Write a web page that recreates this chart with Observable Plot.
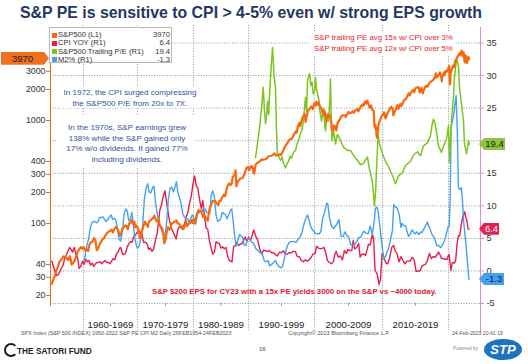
<!DOCTYPE html>
<html>
<head>
<meta charset="utf-8">
<script src="https://cdn.jsdelivr.net/npm/d3@7"></script>
<script src="https://cdn.jsdelivr.net/npm/@observablehq/plot@0.6"></script>
<style>
html,body{margin:0;padding:0;background:#fff;}
#wrap{position:relative;width:528px;height:364px;overflow:hidden;font-family:"Liberation Sans",Arial,sans-serif;background:#fff;}
#chart{position:absolute;left:0;top:26px;}
.t{position:absolute;white-space:nowrap;line-height:0;}
.c{transform:translateX(-50%);}
.r{transform:translateX(-100%);}
.box{position:absolute;background:#fff;}
#title{position:absolute;left:20px;top:13px;white-space:nowrap;line-height:0;font-weight:bold;font-size:17px;color:#1f3864;font-family:"Liberation Sans Narrow","Liberation Sans",Arial,sans-serif;transform-origin:0 50%;}
</style>
</head>
<body>
<div id="wrap">
  <div id="title">S&amp;P PE is sensitive to CPI &gt; 4-5% even w/ strong EPS growth</div>
  <div id="chart"></div>
</div>
<script>
// ---------------- data ----------------
const seriesNames = ["S&P500 (L1)", "CPI YOY (R1)", "S&P500 Trailing P/E (R1)", "M2%  (R1)"];
const lastValues = ["3970", "6.4", "19.4", "-1.3"];
const leftTicks = [20, 30, 40, 100, 200, 300, 400, 1000, 2000, 3000];
const rightTicks = [-5, 0, 5, 10, 15, 20, 25, 30, 35];
const decades = [1960, 1970, 1980, 1990, 2000, 2010, 2020];
const decadeLabels = ["1960-1969", "1970-1979", "1980-1989", "1990-1999", "2000-2009", "2010-2019"];

const spx = [[1954.15,26],[1954.4,28.5],[1954.7,31],[1954.95,35],[1955.2,37],[1955.5,42],[1955.75,44],[1956.0,45],[1956.3,48],[1956.6,47],[1956.9,46],[1957.2,44],[1957.5,48],[1957.8,40],[1958.0,41],[1958.3,43],[1958.6,47],[1958.9,53],[1959.2,56],[1959.5,59],[1959.8,57],[1960.0,59],[1960.3,55],[1960.6,56],[1960.85,54],[1961.1,62],[1961.4,66],[1961.7,67],[1961.95,72],[1962.2,69],[1962.45,55],[1962.7,57],[1962.95,62],[1963.2,66],[1963.5,70],[1963.8,72],[1964.0,76],[1964.3,80],[1964.6,83],[1964.9,85],[1965.2,87],[1965.45,82],[1965.7,88],[1965.95,92],[1966.2,90],[1966.45,85],[1966.75,76],[1966.95,80],[1967.2,89],[1967.5,92],[1967.75,96],[1968.0,94],[1968.2,88],[1968.45,100],[1968.7,102],[1968.9,108],[1969.15,99],[1969.4,104],[1969.6,92],[1969.85,96],[1970.0,91],[1970.25,86],[1970.4,72],[1970.6,77],[1970.85,86],[1971.1,96],[1971.35,104],[1971.6,97],[1971.85,93],[1972.0,103],[1972.3,107],[1972.6,110],[1972.9,116],[1973.0,119],[1973.3,108],[1973.55,104],[1973.8,109],[1973.95,97],[1974.2,93],[1974.45,88],[1974.65,75],[1974.77,64],[1974.95,68],[1975.2,82],[1975.45,92],[1975.65,87],[1975.9,90],[1976.1,100],[1976.4,102],[1976.7,105],[1976.95,107],[1977.2,100],[1977.5,99],[1977.8,93],[1978.0,89],[1978.2,88],[1978.5,97],[1978.7,104],[1978.85,94],[1979.1,99],[1979.4,101],[1979.7,108],[1979.85,101],[1980.0,110],[1980.2,100],[1980.4,111],[1980.65,126],[1980.9,135],[1981.1,130],[1981.35,133],[1981.6,123],[1981.75,116],[1982.0,119],[1982.3,112],[1982.6,106],[1982.7,118],[1982.9,138],[1983.2,152],[1983.45,164],[1983.7,166],[1983.95,165],[1984.2,157],[1984.5,151],[1984.7,166],[1984.95,166],[1985.2,179],[1985.5,190],[1985.75,184],[1985.95,208],[1986.2,232],[1986.45,245],[1986.7,236],[1986.95,246],[1987.15,285],[1987.4,290],[1987.65,328],[1987.8,230],[1987.95,245],[1988.2,262],[1988.5,272],[1988.75,275],[1988.95,278],[1989.2,295],[1989.5,330],[1989.7,350],[1989.95,352],[1990.1,330],[1990.4,360],[1990.6,355],[1990.8,305],[1990.95,330],[1991.1,375],[1991.4,390],[1991.7,400],[1991.95,418],[1992.2,415],[1992.5,420],[1992.75,425],[1992.95,445],[1993.2,452],[1993.5,455],[1993.8,470],[1994.0,478],[1994.2,455],[1994.5,460],[1994.75,470],[1994.95,462],[1995.2,500],[1995.45,545],[1995.7,580],[1995.95,615],[1996.2,650],[1996.5,665],[1996.7,690],[1996.95,745],[1997.2,790],[1997.3,760],[1997.5,890],[1997.75,950],[1997.85,880],[1997.98,970],[1998.2,1080],[1998.5,1150],[1998.65,970],[1998.8,1080],[1998.98,1230],[1999.2,1290],[1999.5,1370],[1999.75,1290],[1999.98,1470],[2000.2,1400],[2000.25,1520],[2000.4,1420],[2000.6,1500],[2000.8,1360],[2000.98,1320],[2001.2,1180],[2001.3,1130],[2001.45,1250],[2001.7,1050],[2001.75,970],[2001.98,1150],[2002.2,1140],[2002.45,990],[2002.55,820],[2002.75,800],[2002.9,900],[2003.1,840],[2003.2,800],[2003.4,950],[2003.6,990],[2003.8,1050],[2003.98,1110],[2004.2,1120],[2004.5,1120],[2004.6,1080],[2004.98,1210],[2005.2,1180],[2005.4,1190],[2005.6,1230],[2005.8,1190],[2005.98,1250],[2006.3,1300],[2006.45,1230],[2006.7,1320],[2006.98,1420],[2007.15,1440],[2007.2,1390],[2007.45,1530],[2007.6,1460],[2007.78,1560],[2007.9,1470],[2008.1,1330],[2008.3,1400],[2008.55,1250],[2008.7,1250],[2008.8,900],[2008.9,850],[2008.98,900],[2009.15,700],[2009.2,680],[2009.4,900],[2009.6,1000],[2009.8,1080],[2009.98,1115],[2010.25,1200],[2010.45,1050],[2010.6,1100],[2010.8,1190],[2010.98,1260],[2011.3,1360],[2011.55,1290],[2011.65,1120],[2011.8,1200],[2011.98,1260],[2012.25,1410],[2012.4,1300],[2012.7,1450],[2012.85,1380],[2012.98,1430],[2013.3,1590],[2013.45,1600],[2013.7,1680],[2013.98,1840],[2014.1,1750],[2014.4,1900],[2014.6,1980],[2014.8,1880],[2014.98,2060],[2015.3,2100],[2015.45,2110],[2015.65,1870],[2015.9,2090],[2016.1,1830],[2016.4,2070],[2016.6,2170],[2016.85,2130],[2016.98,2240],[2017.2,2360],[2017.5,2420],[2017.75,2520],[2017.98,2670],[2018.08,2870],[2018.15,2600],[2018.4,2700],[2018.7,2930],[2018.9,2630],[2018.98,2400],[2019.1,2700],[2019.35,2940],[2019.4,2750],[2019.55,3020],[2019.75,2970],[2019.98,3230],[2020.12,3380],[2020.22,2240],[2020.35,2900],[2020.5,3150],[2020.7,3400],[2020.85,3300],[2020.98,3750],[2021.2,3950],[2021.4,4200],[2021.6,4400],[2021.7,4530],[2021.8,4300],[2021.98,4770],[2022.1,4400],[2022.2,4200],[2022.3,4600],[2022.45,3670],[2022.6,4300],[2022.78,3600],[2022.9,4080],[2022.98,3840],[2023.05,4120],[2023.15,3970]];

const cpi = [[1954.15,1.5],[1954.4,0.8],[1954.7,0.0],[1955.0,-0.7],[1955.3,-0.6],[1955.6,-0.2],[1955.9,0.4],[1956.2,0.8],[1956.5,1.9],[1956.8,2.4],[1957.1,3.0],[1957.4,3.6],[1957.7,3.3],[1958.0,2.9],[1958.3,3.6],[1958.6,2.5],[1958.9,2.1],[1959.2,0.4],[1959.5,0.7],[1959.8,1.5],[1960.1,1.0],[1960.4,1.8],[1960.7,1.4],[1961.0,1.6],[1961.3,0.9],[1961.6,1.2],[1961.9,0.7],[1962.2,1.1],[1962.5,1.3],[1962.8,1.3],[1963.1,1.4],[1963.4,1.1],[1963.7,1.4],[1964.0,1.6],[1964.3,1.3],[1964.6,1.3],[1964.9,1.1],[1965.2,1.5],[1965.5,1.9],[1965.8,1.7],[1966.1,2.6],[1966.4,2.9],[1966.7,3.5],[1966.9,3.6],[1967.2,2.6],[1967.5,2.5],[1967.8,2.8],[1968.1,3.7],[1968.4,4.2],[1968.7,4.5],[1969.0,4.4],[1969.3,5.3],[1969.6,5.5],[1969.9,5.9],[1970.2,6.1],[1970.5,6.0],[1970.8,5.6],[1971.1,4.4],[1971.4,4.4],[1971.7,4.2],[1972.0,3.3],[1972.3,3.5],[1972.6,3.0],[1972.9,3.4],[1973.2,4.7],[1973.5,5.7],[1973.8,7.9],[1974.0,9.4],[1974.3,10.2],[1974.6,11.5],[1974.9,12.3],[1975.1,11.1],[1975.4,9.3],[1975.7,7.8],[1976.0,6.7],[1976.3,6.1],[1976.6,5.5],[1976.9,4.9],[1977.2,6.4],[1977.5,6.8],[1977.8,6.6],[1978.1,6.8],[1978.4,7.2],[1978.7,8.3],[1979.0,9.0],[1979.3,10.4],[1979.6,11.5],[1979.9,13.3],[1980.2,14.6],[1980.5,13.1],[1980.8,12.6],[1981.1,11.0],[1981.4,9.6],[1981.7,10.8],[1982.0,8.4],[1982.3,6.6],[1982.6,6.4],[1982.9,4.6],[1983.2,3.6],[1983.5,2.6],[1983.8,2.9],[1984.1,4.5],[1984.4,4.3],[1984.7,4.2],[1985.0,3.5],[1985.3,3.7],[1985.6,3.4],[1985.9,3.6],[1986.2,2.3],[1986.5,1.6],[1986.8,1.5],[1987.0,1.4],[1987.3,3.8],[1987.6,3.9],[1987.9,4.4],[1988.2,3.9],[1988.5,4.1],[1988.8,4.2],[1989.1,4.7],[1989.4,5.2],[1989.7,4.5],[1990.0,5.2],[1990.3,4.7],[1990.6,5.6],[1990.8,6.3],[1991.1,5.3],[1991.4,4.7],[1991.7,3.4],[1992.0,2.6],[1992.3,3.2],[1992.6,3.1],[1992.9,3.0],[1993.2,3.1],[1993.5,2.8],[1993.8,2.8],[1994.1,2.5],[1994.4,2.3],[1994.7,2.9],[1995.0,2.8],[1995.3,3.1],[1995.6,2.6],[1995.9,2.6],[1996.2,2.8],[1996.5,2.8],[1996.8,3.0],[1997.1,3.0],[1997.4,2.2],[1997.7,2.2],[1998.0,1.6],[1998.3,1.4],[1998.6,1.7],[1998.9,1.5],[1999.2,1.7],[1999.5,2.1],[1999.8,2.6],[2000.1,2.7],[2000.3,3.8],[2000.6,3.5],[2000.9,3.4],[2001.2,3.5],[2001.4,3.6],[2001.7,2.6],[2001.9,1.6],[2002.2,1.3],[2002.5,1.1],[2002.8,1.5],[2003.0,2.6],[2003.2,3.0],[2003.5,2.1],[2003.8,2.3],[2004.1,1.7],[2004.4,3.1],[2004.7,2.7],[2004.9,3.3],[2005.2,3.1],[2005.5,3.2],[2005.7,4.7],[2005.9,3.4],[2006.2,3.6],[2006.5,4.2],[2006.7,2.1],[2006.9,2.5],[2007.2,2.6],[2007.5,2.4],[2007.8,3.5],[2007.95,4.1],[2008.2,4.0],[2008.5,5.6],[2008.7,4.9],[2008.9,0.1],[2009.2,-0.4],[2009.5,-2.1],[2009.7,-1.3],[2009.95,2.7],[2010.2,2.2],[2010.5,1.2],[2010.8,1.1],[2011.1,2.1],[2011.4,3.6],[2011.7,3.9],[2011.95,3.0],[2012.2,2.7],[2012.5,1.4],[2012.8,2.2],[2013.1,1.6],[2013.4,1.1],[2013.7,1.5],[2013.95,1.5],[2014.2,1.5],[2014.5,2.1],[2014.8,1.7],[2014.95,0.8],[2015.1,-0.1],[2015.4,0.0],[2015.7,0.0],[2015.95,0.7],[2016.2,0.9],[2016.5,1.0],[2016.8,1.6],[2017.1,2.7],[2017.4,1.9],[2017.7,2.2],[2017.95,2.1],[2018.2,2.4],[2018.5,2.9],[2018.8,2.3],[2018.95,1.9],[2019.2,1.9],[2019.5,1.8],[2019.8,1.8],[2019.95,2.3],[2020.1,2.5],[2020.35,0.1],[2020.6,1.3],[2020.9,1.2],[2021.1,1.7],[2021.3,4.2],[2021.5,5.4],[2021.7,5.4],[2021.9,6.8],[2022.0,7.5],[2022.2,8.5],[2022.45,9.1],[2022.6,8.3],[2022.8,7.7],[2022.95,6.5],[2023.1,6.4]];

const pe = [[1991.06,17.4],[1991.36,19.5],[1991.67,22],[1991.97,25],[1992.23,28.2],[1992.4,25],[1992.58,22.6],[1992.75,24],[1992.88,26],[1993.05,24],[1993.18,27],[1993.4,30.8],[1993.64,34.3],[1993.75,32.5],[1993.86,30],[1994.09,28.2],[1994.24,21.5],[1994.39,18],[1994.6,17.5],[1994.85,17],[1995.1,17.5],[1995.3,16.5],[1995.61,15.8],[1995.85,16.5],[1996.06,16.8],[1996.3,17.6],[1996.52,17.3],[1996.8,18.2],[1997.12,18.5],[1997.35,19.5],[1997.58,20],[1997.85,21],[1998.18,22],[1998.4,24],[1998.64,26.6],[1998.8,24.5],[1998.94,29.2],[1999.24,30.3],[1999.45,28.5],[1999.62,29],[1999.8,27.2],[2000.0,27.5],[2000.15,29.7],[2000.29,28],[2000.59,26.6],[2000.8,24.5],[2001.03,23],[2001.32,25],[2001.5,22.5],[2001.62,21.5],[2001.85,24],[2002.06,23],[2002.25,26],[2002.35,29.5],[2002.45,24],[2002.57,20],[2002.79,21.5],[2003.1,19.5],[2003.38,21],[2003.82,20],[2004.26,19],[2004.85,18.5],[2005.29,18.5],[2005.88,17.5],[2006.32,17],[2006.76,16.3],[2007.21,16.5],[2007.5,17],[2007.79,17.5],[2008.0,16],[2008.24,15],[2008.53,13.5],[2008.82,10],[2009.0,12.5],[2009.12,15.5],[2009.34,21],[2009.56,19.5],[2010.0,18],[2010.45,16.8],[2010.91,16],[2011.2,15.3],[2011.52,14.6],[2011.97,13.4],[2012.42,14.6],[2013.03,15.1],[2013.48,16.2],[2014.24,16.8],[2014.7,17.8],[2015.3,18.3],[2015.76,17.7],[2016.21,19.2],[2016.82,19.7],[2017.27,20.8],[2017.58,22.8],[2017.73,23.3],[2018.0,22.5],[2018.18,21.3],[2018.48,19.2],[2018.94,18.2],[2019.24,19.2],[2019.7,20.3],[2020.0,22.3],[2020.15,16.7],[2020.3,20],[2020.45,23.1],[2020.76,26.7],[2020.91,29.8],[2021.21,32.6],[2021.52,31.3],[2021.67,28.2],[2021.97,25.6],[2022.27,23.1],[2022.42,19.5],[2022.73,18],[2022.88,19],[2023.03,20],[2023.15,19.4]];

const m2 = [[1960.1,1.5],[1960.4,2.8],[1960.7,4.2],[1960.95,4.9],[1961.2,6.3],[1961.5,7.3],[1961.8,7.6],[1962.1,7.6],[1962.4,7.4],[1962.7,7.6],[1963.0,8.2],[1963.3,8.2],[1963.6,8.3],[1963.9,7.9],[1964.2,7.6],[1964.5,7.9],[1964.8,8.3],[1965.1,8.6],[1965.4,7.9],[1965.7,8.1],[1966.0,7.8],[1966.3,6.3],[1966.6,4.8],[1966.9,4.6],[1967.2,6.2],[1967.5,8.6],[1967.8,9.5],[1968.1,9.2],[1968.4,7.7],[1968.7,8.0],[1968.95,9.0],[1969.2,7.3],[1969.5,5.0],[1969.8,3.9],[1970.0,3.5],[1970.3,3.8],[1970.6,5.0],[1970.9,6.6],[1971.2,10.8],[1971.5,12.6],[1971.8,13.4],[1972.1,12.1],[1972.4,12.0],[1972.7,12.8],[1972.95,13.0],[1973.2,10.7],[1973.5,8.9],[1973.8,7.4],[1974.0,6.9],[1974.3,6.3],[1974.6,5.7],[1974.9,5.5],[1975.2,7.4],[1975.5,10.9],[1975.8,12.6],[1976.1,12.9],[1976.4,12.1],[1976.7,12.9],[1976.95,13.7],[1977.2,12.0],[1977.5,11.3],[1977.8,10.3],[1978.1,8.7],[1978.4,8.2],[1978.7,8.0],[1978.95,8.0],[1979.2,7.4],[1979.5,8.1],[1979.8,8.6],[1980.1,8.0],[1980.4,7.2],[1980.7,8.7],[1980.95,8.9],[1981.2,9.3],[1981.5,9.1],[1981.8,9.6],[1982.1,9.5],[1982.4,9.0],[1982.7,9.0],[1982.95,8.7],[1983.2,11.5],[1983.5,12.3],[1983.8,11.4],[1984.1,8.6],[1984.4,7.6],[1984.7,7.8],[1984.95,8.0],[1985.2,9.0],[1985.5,8.8],[1985.8,8.7],[1986.1,8.0],[1986.4,8.6],[1986.7,9.3],[1986.95,9.5],[1987.2,7.8],[1987.5,5.2],[1987.8,3.8],[1988.1,4.8],[1988.4,5.6],[1988.7,5.3],[1988.95,5.2],[1989.2,4.0],[1989.5,3.9],[1989.8,4.8],[1990.1,5.0],[1990.4,4.5],[1990.7,4.3],[1990.95,3.8],[1991.2,3.3],[1991.5,3.1],[1991.8,2.8],[1992.1,2.6],[1992.4,1.5],[1992.7,1.4],[1992.95,1.6],[1993.2,0.8],[1993.5,1.0],[1993.8,1.3],[1994.1,1.6],[1994.4,0.9],[1994.7,0.6],[1994.95,0.5],[1995.2,0.8],[1995.5,2.3],[1995.8,3.6],[1996.1,4.3],[1996.4,4.5],[1996.7,4.5],[1996.95,4.5],[1997.2,4.4],[1997.5,4.8],[1997.8,5.2],[1998.1,5.9],[1998.4,7.2],[1998.7,8.1],[1998.95,8.6],[1999.2,7.7],[1999.5,6.6],[1999.8,6.2],[2000.1,5.8],[2000.4,5.7],[2000.7,5.7],[2000.95,6.1],[2001.2,8.1],[2001.5,9.1],[2001.8,10.4],[2001.95,10.3],[2002.2,8.2],[2002.5,6.9],[2002.8,6.5],[2003.0,6.8],[2003.3,7.2],[2003.6,7.9],[2003.9,5.3],[2004.2,5.3],[2004.5,6.0],[2004.8,5.4],[2005.0,5.3],[2005.3,4.1],[2005.6,3.9],[2005.9,4.1],[2006.2,4.5],[2006.5,5.1],[2006.8,5.2],[2007.0,5.7],[2007.3,6.1],[2007.6,5.8],[2007.9,5.7],[2008.2,6.9],[2008.5,5.6],[2008.8,7.7],[2008.95,9.6],[2009.2,9.8],[2009.4,8.9],[2009.7,6.0],[2009.95,3.7],[2010.2,1.8],[2010.5,2.3],[2010.8,3.2],[2010.95,3.5],[2011.2,4.8],[2011.5,6.2],[2011.7,10.2],[2011.95,9.8],[2012.2,9.7],[2012.5,8.8],[2012.8,6.7],[2012.95,7.3],[2013.2,7.0],[2013.5,6.9],[2013.8,5.8],[2013.95,5.3],[2014.2,5.7],[2014.5,6.3],[2014.8,5.8],[2014.95,5.7],[2015.2,6.0],[2015.5,5.6],[2015.8,6.0],[2015.95,5.9],[2016.2,6.3],[2016.5,6.9],[2016.8,7.5],[2016.95,7.0],[2017.2,6.5],[2017.5,5.6],[2017.8,5.2],[2017.95,4.8],[2018.2,3.9],[2018.5,3.9],[2018.8,3.6],[2018.95,3.8],[2019.2,4.2],[2019.5,5.0],[2019.8,6.2],[2019.95,6.8],[2020.1,6.8],[2020.25,11.0],[2020.4,22.0],[2020.6,23.0],[2020.8,24.0],[2021.0,25.8],[2021.15,26.9],[2021.35,21.0],[2021.5,12.8],[2021.7,12.5],[2021.95,12.8],[2022.1,11.0],[2022.3,7.6],[2022.5,5.5],[2022.7,3.5],[2022.9,1.0],[2023.1,-1.3]];

// ---------------- styling / scales ----------------
const C_SPX = "#f7680f", C_CPI = "#e41f4f", C_PE = "#7dc51c", C_M2 = "#45a1ee", C_AX = "#e38bcd", C_GRID = "#7a7a7a";
const colors = [C_SPX, C_CPI, C_PE, C_M2];
const TOP = 26;
// Bloomberg's time axis is not uniform: piecewise time warp applied by the x scale's transform
const xYears = [1953.9, 1960, 1970, 1980, 1990, 2000, 2010, 2020, 2024.85];
const xWarp = [50, 83, 137, 193, 248, 314, 382, 448, 480];
const xs = d3.scaleLinear().domain(xYears).range(xWarp);
const yDom = [-5, 35];
const ys = d3.scaleLinear().domain(yDom).range([277, 16.5]);
const xAt = px => xs.invert(px);
const rAt = py => ys.invert(py - TOP);
// left log axis (S&P500) mapped onto the right linear axis
const spxR = d3.scaleLog().domain([100, 1000]).range([rAt(223), rAt(120)]);
const X0 = xYears[0], X1 = xYears[xYears.length - 1];
const FONT = '"Liberation Sans", Arial, sans-serif';

const chart = Plot.plot({
  width: 528, height: 338,
  marginLeft: 50, marginRight: 48, marginTop: 1, marginBottom: 61,
  x: {type: "linear", transform: xs, domain: [xWarp[0], xWarp[xWarp.length - 1]], axis: null},
  y: {domain: yDom, range: [277, 16.5], axis: null},
  style: {fontFamily: FONT, background: "transparent", overflow: "visible"},
  marks: [
    Plot.ruleY(rightTicks, {x1: X0, x2: X1, stroke: C_GRID, strokeWidth: 0.8, strokeDasharray: "1,1.6"}),
    Plot.ruleX(decades, {y1: rAt(25), y2: rAt(331), stroke: C_GRID, strokeWidth: 0.8, strokeDasharray: "1,1.6"}),
    Plot.ruleX(decades.slice(0, -1).map(d => d + 5), {y1: rAt(303), y2: rAt(306), stroke: "#888", strokeWidth: 0.8}),
    Plot.line(cpi, {x: d => d[0], y: d => d[1], stroke: C_CPI, strokeWidth: 1.4}),
    Plot.line(m2, {x: d => d[0], y: d => d[1], stroke: C_M2, strokeWidth: 1.4}),
    Plot.line(pe, {x: d => d[0], y: d => d[1], stroke: C_PE, strokeWidth: 1.5}),
    Plot.line(spx, {x: d => d[0], y: d => spxR(d[1]), stroke: C_SPX, strokeWidth: 2.2}),
    // left axis
    Plot.ruleX([X0], {y1: rAt(27), y2: rAt(306), stroke: C_SPX, strokeWidth: 1}),
    Plot.ruleY(leftTicks, {y: d => spxR(d), x1: xAt(46), x2: X0, stroke: C_SPX, strokeWidth: 1}),
    Plot.text(leftTicks, {x: X0, y: d => spxR(d), text: d => String(d), textAnchor: "end", dx: -5, fontSize: 8.8, fill: "#333"}),
    // right axis
    Plot.ruleX([X1], {y1: rAt(27), y2: rAt(332), stroke: C_AX, strokeWidth: 1}),
    Plot.ruleY(rightTicks, {x1: X1, x2: xAt(484), stroke: C_AX, strokeWidth: 1}),
    Plot.text(rightTicks, {x: X1, y: d => d, text: d => String(d), textAnchor: "start", dx: 6, fontSize: 9.2, fill: "#333"}),
    // decade labels
    Plot.text(decadeLabels, {x: (d, i) => decades[i] + 5, y: rAt(324), text: d => d, fontSize: 9.6, fill: "#222"})
  ]
});
document.getElementById("chart").appendChild(chart);

const wrap = document.getElementById("wrap");
const yS = chart.scale("y");
const pageY = r => yS.apply(r) + TOP;

// title fit
const title = document.getElementById("title");
title.style.transform = `scaleX(${462 / title.getBoundingClientRect().width})`;

function addBox(l, t, w, h) {
  const b = document.createElement("div");
  b.className = "box";
  Object.assign(b.style, {left: l + "px", top: t + "px", width: w + "px", height: h + "px"});
  wrap.appendChild(b);
  return b;
}
function addText(txt, x, y, {align = "l", size = 8, color = "#333", weight = "normal", family} = {}) {
  const e = document.createElement("div");
  e.className = "t" + (align === "c" ? " c" : align === "r" ? " r" : "");
  e.textContent = txt;
  Object.assign(e.style, {left: x + "px", top: y + "px", fontSize: size + "px", color, fontWeight: weight});
  if (family) e.style.fontFamily = family;
  wrap.appendChild(e);
  return e;
}
function fit(els, ref, target) {
  const w = ref.getBoundingClientRect().width;
  const k = target / w;
  els.forEach(e => e.style.fontSize = (parseFloat(e.style.fontSize) * k) + "px");
}

// annotation boxes (white)
addBox(60, 87, 140, 21);
addBox(57, 116, 138, 52);
addBox(310, 31, 146, 24);

const NAVY = "#2f5597";
const a1 = ["In 1972, the CPI surged compressing", "the S&P500 P/E from 20x to 7X."].map((s, i) => addText(s, 130, 92.7 + i * 11, {align: "c", color: NAVY}));
fit(a1, a1[0], 133);
const a2 = ["In the 1970s, S&P earnings grew", "138% while the S&P gained only", "17% w/o dividends.  It gained 77%", "including dividends."].map((s, i) => addText(s, 127, 127.7 + i * 10.8, {align: "c", color: NAVY}));
fit(a2, a2[0], 118);
const RED = "#e8232b";
const a3 = ["S&P trailing PE avg 15x w/ CPI over 3%", "S&P trailing PE avg 12x w/ CPI over 5%"].map((s, i) => addText(s, 314, 37.7 + i * 11.6, {color: RED}));
fit(a3, a3[0], 139);
const a4 = addText("S&P $200 EPS for CY23 with a 15x PE yields 3000 on the S&P vs ~4000 today.", 152, 292, {color: "#e0202a", weight: "bold"});
fit([a4], a4, 285);

// legend
const lg = addBox(49, 27, 123, 36);
lg.style.border = "1px solid #b8b8b8";
lg.style.boxSizing = "border-box";
seriesNames.forEach((name, i) => {
  const yy = 35 + i * 8.3;
  const sq = addBox(52, yy - 2.5, 5, 5);
  sq.style.background = colors[i];
  addText(name, 58, yy, {size: 7.6, color: "#333"});
  addText(lastValues[i], 170, yy, {size: 7.6, color: "#333", align: "r"});
});

// value tags on the axes
function addTag(side, y, text, bg, fg, w, h) {
  const el = document.createElement("div");
  el.textContent = text;
  Object.assign(el.style, {position: "absolute", top: (y - h / 2) + "px", height: h + "px", lineHeight: h + "px",
    fontSize: "9.5px", color: fg, background: bg, width: w + "px", textAlign: "center", boxSizing: "border-box"});
  if (side === "left") {
    el.style.left = "1px"; el.style.paddingRight = "5px";
    el.style.clipPath = "polygon(0 0, calc(100% - 5px) 0, 100% 50%, calc(100% - 5px) 100%, 0 100%)";
  } else {
    el.style.left = "479px"; el.style.paddingLeft = "5px";
    el.style.clipPath = "polygon(5px 0, 100% 0, 100% 100%, 5px 100%, 0 50%)";
  }
  wrap.appendChild(el);
}
addTag("left", pageY(spxR(+lastValues[0])), lastValues[0], "#f0701e", "#1a1a1a", 48, 13);
addTag("right", pageY(+lastValues[2]), lastValues[2], "#8cc63f", "#1a1a1a", 26, 12);
addTag("right", pageY(+lastValues[1]), lastValues[1], "#e41f4f", "#ffffff", 20, 12);
addTag("right", pageY(+lastValues[3]), lastValues[3], "#45a1ee", "#102040", 25, 12);

// footer
const f1 = addText("SPX Index (S&P 500 INDEX) 1950-2022 S&P PE CPI M2  Daily 26FEB1954-24FEB2023", 21, 333, {size: 5.3, color: "#555"});
fit([f1], f1, 211);
const f2 = addText("Copyright\u00A9 2023 Bloomberg Finance L.P.", 288, 333, {size: 5.3, color: "#555"});
fit([f2], f2, 102);
const f3 = addText("24-Feb-2023 20:41:19", 452, 333, {size: 5.3, color: "#555"});
fit([f3], f3, 51);
const logo = addBox(4, 343, 10, 10);
Object.assign(logo.style, {border: "2px solid #1c1c2c", borderRightColor: "transparent", borderRadius: "50%", background: "transparent"});
const sf = addText("THE SATORI FUND", 17, 351, {size: 8, color: "#1c1c2c", weight: "bold"});
fit([sf], sf, 75);
addText("16", 259, 349, {size: 6, color: "#444"});
const pb = addText("Powered by", 453, 349, {size: 4.5, color: "#888"});
fit([pb], pb, 25);
const stp = addBox(484, 339, 38, 21);
Object.assign(stp.style, {borderRadius: "50%", background: "#1c73be"});
addText("STP", 503, 350, {size: 13, color: "#fff", weight: "bold", align: "c"}).style.fontStyle = "italic";
</script>
</body>
</html>
